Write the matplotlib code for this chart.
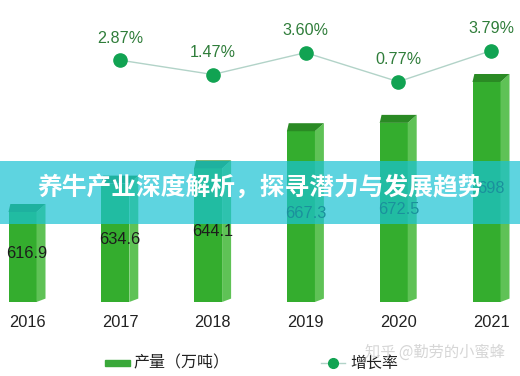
import numpy as np
import matplotlib
matplotlib.use("Agg")
import matplotlib.pyplot as plt
from matplotlib.patches import Rectangle
from matplotlib.lines import Line2D

plt.rcParams['font.family'] = ['Liberation Sans', 'Noto Sans CJK SC', 'DejaVu Sans']

years = ['2016', '2017', '2018', '2019', '2020', '2021']
output = [616.9, 634.6, 644.1, 667.3, 672.5, 698]
growth_years = ['2017', '2018', '2019', '2020', '2021']
growth = [2.87, 1.47, 3.60, 0.77, 3.79]
value_labels = ['616.9', '634.6', '644.1', '667.3', '672.5', '698']
growth_labels = ['2.87%', '1.47%', '3.60%', '0.77%', '3.79%']

W, H = 520, 376
fig = plt.figure(figsize=(5.2, 3.76), dpi=100)

# axes area in pixels (top-down): top 40, bottom 302
ax_top, ax_bot = 40, 302
pos = [0, (H - ax_bot) / H, 1, (ax_bot - ax_top) / H]
ax = fig.add_axes(pos)
ax.axis('off')

spacing = 92.8   # px between bars
x0px = 22.5      # px of first bar front centre
ax.set_xlim(-x0px / spacing, (W - x0px) / spacing)
px_per_unit = 1.603
base = 616.9 - (ax_bot - 212) / px_per_unit
ax.set_ylim(base, base + (ax_bot - ax_top) / px_per_unit)

front_c = '#34ad2e'
side_c = '#5fc256'
top_c = '#2a8a24'
bw = 28 / spacing
dx = 9 / spacing
dy_top = 8 / px_per_unit
dy_bot = 3.4 / px_per_unit

xs = np.arange(len(years))
ax.bar(xs, np.array(output) - base, bottom=base, width=bw, color=front_c, zorder=2)
for x, v in zip(xs, output):
    l, r = x - bw / 2, x + bw / 2
    ax.fill([r, r + dx, r + dx, r], [base, base + dy_bot, v + dy_top, v],
            color=side_c, lw=0, zorder=2)
    ax.fill([l, l + 0.02, r + dx, r], [v, v + dy_top, v + dy_top, v],
            color=top_c, lw=0, zorder=2)

for x, v, lab in zip(xs, output, value_labels):
    ax.text(x + 0.05, base + (v - base) / 2 + 2, lab, ha='center', va='center',
            fontsize=11.8, color='#1c1c1c', zorder=3)

for x, lab in zip(xs, years):
    ax.text(x + 0.05, -20.7 / (ax_bot - ax_top), lab, transform=ax.get_xaxis_transform(),
            ha='center', va='center', fontsize=11.8, color='#222222')

# growth line on twin axis
ax2 = ax.twinx()
ax2.axis('off')
g_px = 10.27
g_ref, g_ref_px = 0.77, 81.7
ax2.set_ylim(g_ref - (ax_bot - g_ref_px) / g_px, g_ref + (g_ref_px - ax_top) / g_px)
gx = np.array([years.index(y) for y in growth_years]) + 0.05
ax2.plot(gx, growth, color='#b2d3c8', lw=1, zorder=2)
ax2.plot(gx, growth, 'o', ms=9.5, color='#11a352', mec='#11a352', zorder=3)
for x, g, lab in zip(gx, growth, growth_labels):
    ax2.annotate(lab, (x, g), xytext=(0, 22), textcoords='offset pixels',
                 ha='center', va='center', fontsize=11.6, color='#2f7d3a')

# legend
def fx(px):
    return px / W

def fy(py):
    return (H - py) / H

fig.patches.append(Rectangle((fx(105), fy(366)), fx(130) - fx(105), fy(360) - fy(366),
                             transform=fig.transFigure, color='#3aa83a', zorder=4))
fig.text(fx(133), fy(363), '产量（万吨）', ha='left', va='center', fontsize=11.5,
         color='#222222', family=['Noto Sans CJK SC', 'DejaVu Sans'])
fig.lines.append(Line2D([fx(321), fx(345)], [fy(363), fy(363)], transform=fig.transFigure,
                        color='#b2d3c8', lw=1))
fig.lines.append(Line2D([fx(333)], [fy(363)], transform=fig.transFigure, marker='o',
                        ms=7, color='#11a352', lw=0))
fig.text(fx(350), fy(363), '增长率', ha='left', va='center', fontsize=11.5,
         color='#222222', family=['Noto Sans CJK SC', 'DejaVu Sans'])
fig.text(fx(365), fy(352), '知乎 @勤劳的小蜜蜂', ha='left', va='center', fontsize=11,
         color='#d6d6d6', family=['Noto Sans CJK SC', 'DejaVu Sans'])

# title banner
fig.patches.append(Rectangle((0, fy(224)), 1, fy(161) - fy(224), transform=fig.transFigure,
                             color='#1ac3d4', alpha=0.7, lw=0, zorder=5))
fig.text(0.5, fy(187), '养牛产业深度解析，探寻潜力与发展趋势', ha='center', va='center',
         fontsize=17.8, fontweight='bold', color='white', zorder=6,
         family=['Noto Sans CJK SC', 'DejaVu Sans'])

fig.savefig('out.png', dpi=100)
